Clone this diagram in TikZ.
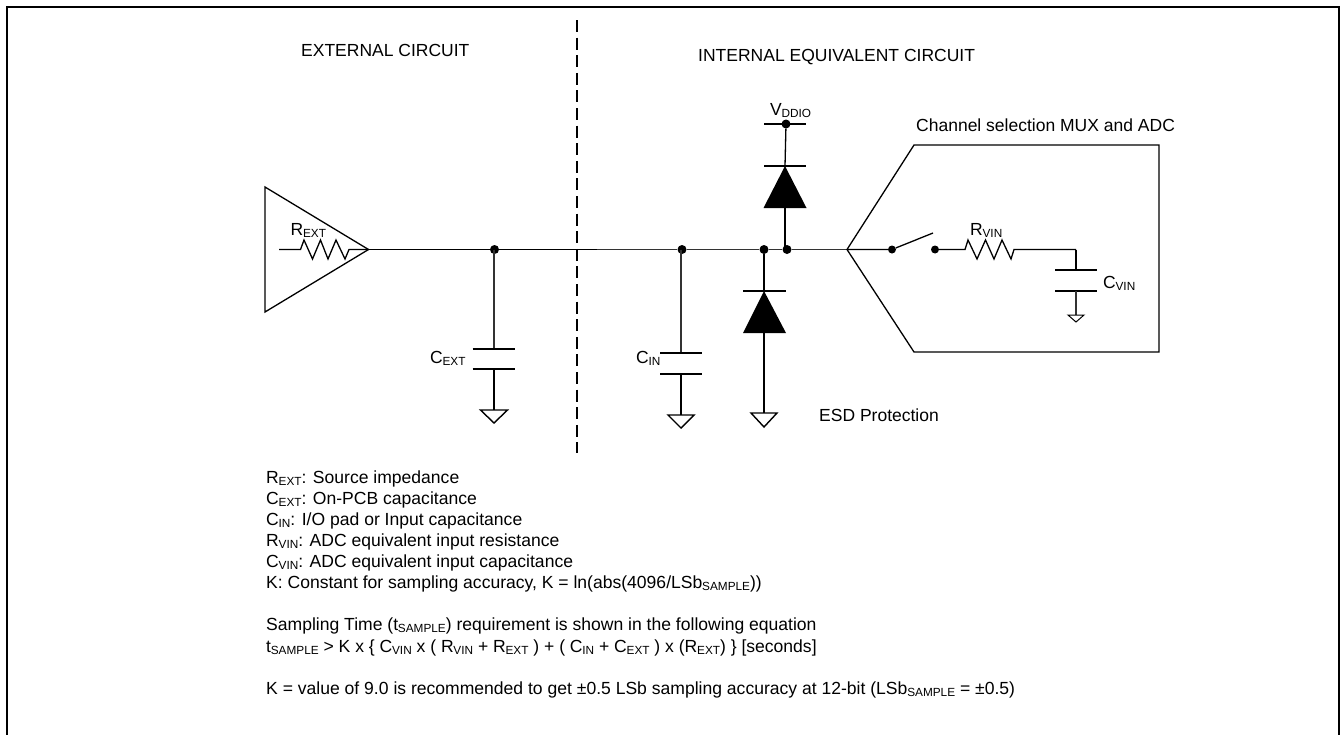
\documentclass[tikz,border=0pt]{standalone}
\usepackage{fontspec}
\setmainfont{Liberation Sans}
\newcommand{\sbs}[1]{\raisebox{-0.17em}{\fontsize{11.8}{14}\selectfont\kern-0.02em #1}}
\tikzset{
  wire/.style={line width=1.3pt,line join=miter},
  greywire/.style={line width=1.3pt,black!80},
  plate/.style={line width=1.6pt},
  lbl/.style={inner sep=0pt,anchor=base west,font=\fontsize{17.5}{19}\selectfont},
  note/.style={inner sep=0pt,anchor=base west,font=\fontsize{17.55}{19}\selectfont},
  junction/.style={circle,fill=black,inner sep=0pt,minimum size=9pt},
  swdot/.style={circle,fill=black,inner sep=0pt,minimum size=8pt},
  gnd/.style={line width=1.4pt,line join=miter}
}
\begin{document}
\begin{tikzpicture}[x=1pt,y=-1pt]
\useasboundingbox (0,0) rectangle (1340,734);
\fill[white] (0,0) rectangle (1340,734);
\draw[line width=1.7pt] (7,740)--(7,7)--(1339,7)--(1339,740);
\coordinate (dtop) at (577,20);
\coordinate (dbot) at (577,453);
\draw[line width=1.7pt,dash pattern=on 12pt off 5.6pt] (dtop)--(dbot);

\node[lbl] (t1) at (301,56.5) {EXTERNAL CIRCUIT};
\node[lbl] (t2) at (698,61.5) {INTERNAL EQUIVALENT CIRCUIT};
\node[lbl] (t3) at (916,131) {Channel selection MUX and ADC};
\node[lbl] (t4) at (819,421) {ESD Protection};
\node[lbl] (rext) at (290.5,235) {R\sbs{EXT}};
\node[lbl] (cext) at (430,363) {C\sbs{EXT}};
\node[lbl] (cin) at (636,363) {C\sbs{IN}};
\node[lbl] (vdd) at (770,115) {V\sbs{DDIO}};
\node[lbl] (rvin) at (970,235) {R\sbs{VIN}};
\node[lbl] (cvin) at (1103,288) {C\sbs{VIN}};

% source triangle
\coordinate (apex) at (368.5,249.5);
\draw[wire] (265,187)--(265,312)--(apex)--cycle;
\coordinate (rs) at (279,249.5);
\draw[wire] (rs)--(300.5,249.5)--(304,240)--(312.5,259)--(320.5,240)--(328,259)--(336,240)--(345,259)--(349,249.5)--(apex);

% main line
\coordinate (muxapex) at (847,249.5);
\coordinate (wiresplit) at (597,249.5);
\node[junction] (j1) at (494.5,249.5) {};
\node[junction] (j2) at (682,249.5) {};
\node[junction] (j3) at (764,249.5) {};
\node[junction] (j4) at (787,249.5) {};
\draw[wire] (apex)--(j1)--(wiresplit);
\draw[greywire] (wiresplit)--(j2)--(j3)--(j4)--(muxapex);

% C_EXT
\coordinate (ce1) at (494,349);
\coordinate (ce2) at (494,369);
\coordinate (ge) at (494,410);
\draw[greywire] (494,249.5)--(ce1);
\draw[plate] (472.5,349)--(515,349) (472.5,369)--(515,369);
\draw[gnd] (ce2)--(ge);
\draw[gnd] (480.5,410)--(507.5,410)--(494,423)--cycle;

% C_IN
\coordinate (ci1) at (681,353);
\coordinate (ci2) at (681,374);
\coordinate (gi) at (681,415);
\draw[greywire] (681,249.5)--(ci1);
\draw[plate] (660,353)--(702,353) (660,374)--(702,374);
\draw[gnd] (ci2)--(gi);
\draw[gnd] (668,415)--(694,415)--(681,428)--cycle;

% lower diode
\coordinate (dl1) at (764,291);
\coordinate (dl2) at (764,333);
\coordinate (gd) at (764,413);
\draw[wire] (j3)--(dl1);
\draw[wire] (743,291)--(786,291);
\fill (dl1)--(786,333)--(743,333)--cycle;
\draw[wire] (dl2)--(764,373);
\draw[gnd] (764,373)--(gd);
\draw[gnd] (751,413)--(777,413)--(764,427)--cycle;

% upper diode
\node[junction] (jv) at (786,124) {};
\coordinate (du1) at (785,166);
\coordinate (du2) at (785,208);
\draw[wire] (764,124)--(806,124);
\draw[wire] (jv)--(du1);
\draw[wire] (764,166)--(806,166);
\fill (du1)--(806.5,208)--(763.5,208)--cycle;
\draw[wire] (du2)--(785,249.5);

% MUX box
\draw[wire] (muxapex)--(914,145)--(1159,145)--(1159,352)--(914,352)--cycle;

% switch
\node[swdot] (sw1) at (892,249.5) {};
\node[swdot] (sw2) at (935,249.5) {};
\coordinate (swarm) at (933,233);
\draw[wire] (muxapex)--(sw1)--(swarm);
\coordinate (rr) at (1076,249.5);
\draw[wire] (sw2)--(965,249.5)--(968,240)--(977,259)--(985.5,240)--(994,259)--(1002,240)--(1011,259)--(1014,249.5)--(rr);
\coordinate (cv1) at (1076,270);
\coordinate (cv2) at (1076,291);
\coordinate (gv) at (1076,315);
\draw[wire] (rr)--(cv1);
\draw[plate] (1055,270)--(1097,270) (1055,291)--(1097,291);
\draw[greywire] (cv2)--(gv);
\draw[line width=1pt,line join=miter] (1068,315)--(1084,315)--(1076,322)--cycle;

% notes
\node[note] (n1) at (266,483) {R\sbs{EXT}: Source impedance};
\node[note] (n2) at (266,504) {C\sbs{EXT}: On-PCB capacitance};
\node[note] (n3) at (266,525) {C\sbs{IN}: I/O pad or Input capacitance};
\node[note] (n4) at (266,546) {R\sbs{VIN}: ADC equivalent input resistance};
\node[note] (n5) at (266,567) {C\sbs{VIN}: ADC equivalent input capacitance};
\node[note] (n6) at (266,588) {K: Constant for sampling accuracy, K = ln(abs(4096/LSb\sbs{SAMPLE}))};
\node[note] (n7) at (266,630) {Sampling Time (t\sbs{SAMPLE}) requirement is shown in the following equation};
\node[note] (n8) at (266,652) {t\sbs{SAMPLE} > K x \{ C\sbs{VIN} x ( R\sbs{VIN} + R\sbs{EXT} ) + ( C\sbs{IN} + C\sbs{EXT} ) x (R\sbs{EXT}) \} [seconds]};
\node[note] (n9) at (266,694) {K = value of 9.0 is recommended to get ±0.5 LSb sampling accuracy at 12-bit (LSb\sbs{SAMPLE} = ±0.5)};
\end{tikzpicture}
\end{document}
